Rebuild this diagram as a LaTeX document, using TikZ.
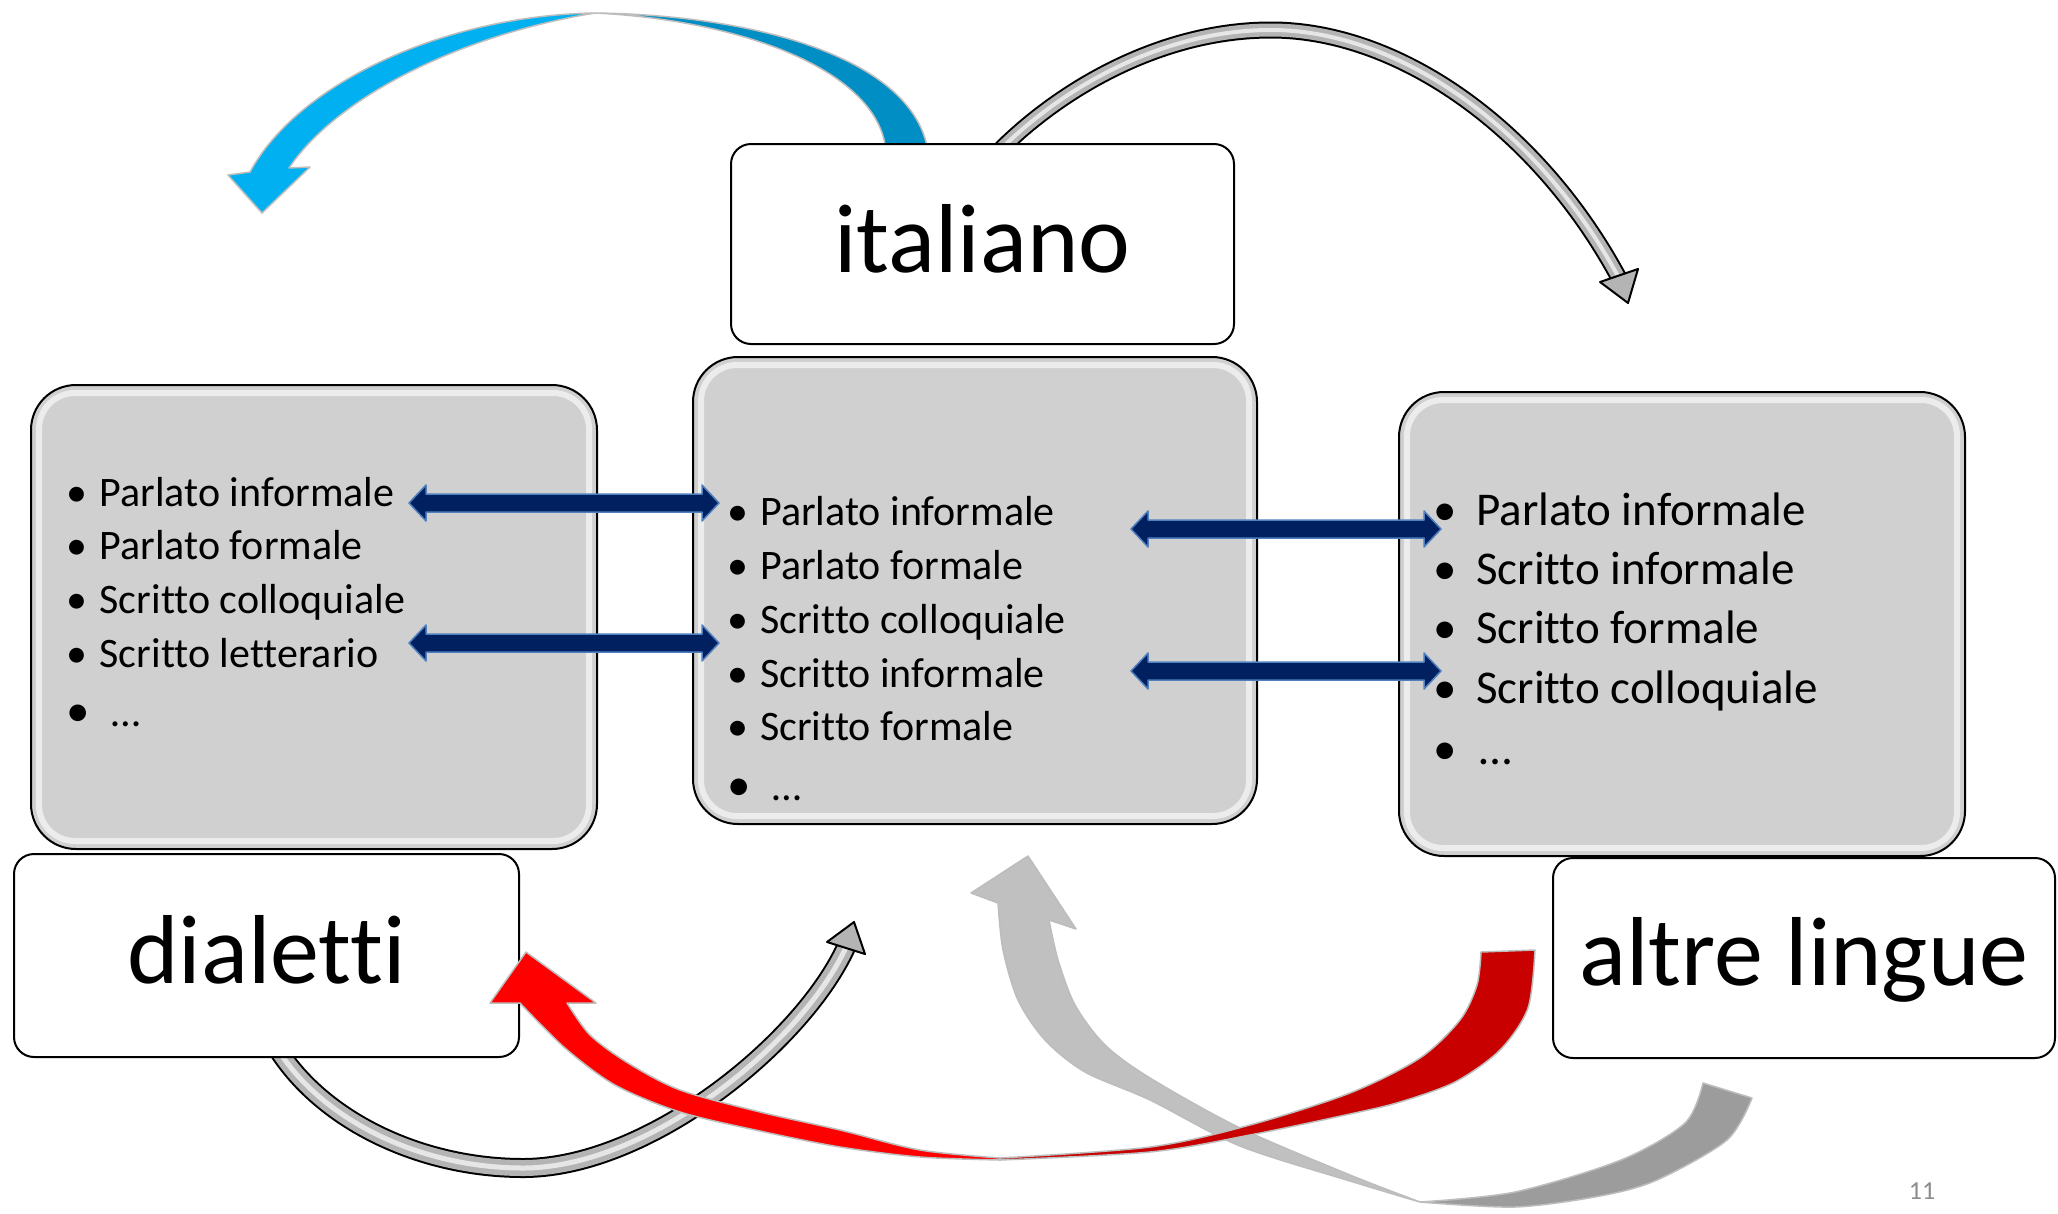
\documentclass[tikz,border=0pt]{standalone}
\usepackage{fontspec}
\setmainfont{Carlito}[Ligatures={NoCommon}]
\usetikzlibrary{calc}
\definecolor{boxgrey}{HTML}{D0D0D0}
\definecolor{navyfill}{HTML}{002060}
\definecolor{navyedge}{HTML}{4F7FBF}
\definecolor{blueL}{HTML}{00B0F0}
\definecolor{blueD}{HTML}{008EC4}
\definecolor{redL}{HTML}{FF0000}
\definecolor{redD}{HTML}{C80000}
\definecolor{greyL}{HTML}{C0C0C0}
\definecolor{greyD}{HTML}{9C9C9C}
\definecolor{tubegrey}{HTML}{B4B4B4}
\definecolor{tubelight}{HTML}{E6E6E6}
\definecolor{edgegrey}{HTML}{BDBDBD}
\definecolor{pagegrey}{HTML}{8C8C8C}
\newcommand\navyarrow[2]{%
  \filldraw[navyarr] (#1) -- ($(#1)+(17,-18)$) -- ($(#1)+(17,-9)$) -- ($(#2)+(-17,-9)$)
   -- ($(#2)+(-17,-18)$) -- (#2) -- ($(#2)+(-17,18)$) -- ($(#2)+(-17,9)$)
   -- ($(#1)+(17,9)$) -- ($(#1)+(17,18)$) -- cycle;}
\begin{document}
\begin{tikzpicture}[x=1pt,y=-1pt,line join=round,
  gbox/.style={draw=black, line width=2pt, fill=boxgrey, rounded corners=45pt, inner sep=0pt},
  ghl/.style={draw=white, line width=6pt, opacity=0.6, rounded corners=36pt},
  wbox/.style={draw=black, line width=2pt, fill=white, rounded corners=20pt, inner sep=0pt},
  itm/.style={anchor=base west, inner sep=0pt, font=\fontsize{42}{50}\selectfont},
  itmR/.style={anchor=base west, inner sep=0pt, font=\fontsize{47}{56}\selectfont},
  bul/.style={anchor=base, inner sep=0pt, font=\fontsize{42}{50}\selectfont},
  bulR/.style={anchor=base, inner sep=0pt, font=\fontsize{47}{56}\selectfont},
  title/.style={anchor=base, inner sep=0pt, font=\fontsize{98}{117}\selectfont},
  navyarr/.style={fill=navyfill, draw=navyedge, line width=1.5pt},
  tubeA/.style={draw=black, line width=17pt, postaction={draw=tubegrey, line width=13pt}, postaction={draw=tubelight, line width=4pt}},
  tubeB/.style={draw=black, line width=20pt, postaction={draw=tubegrey, line width=16pt}, postaction={draw=tubelight, line width=5pt}},
  headst/.style={fill=tubegrey, draw=black, line width=2pt},
  band/.style={draw=edgegrey, line width=1.5pt}]
\useasboundingbox (0,0) rectangle (2058,1213);
\fill[white] (0,0) rectangle (2058,1213);

% ---- curved arrows drawn under the boxes ----
% top right grey tube arrow
\draw[tubeA] (1000,150) .. controls (1060,90) and (1160,30) .. (1271,30)
  .. controls (1400,30) and (1540,130) .. (1620,280);
\filldraw[headst] (1600,282) -- (1628,303) -- (1638,269) -- cycle;
% bottom left grey tube arrow
\draw[tubeB] (275,1045) .. controls (320,1120) and (420,1168) .. (523,1168)
  .. controls (650,1168) and (805,1040) .. (847,945);
\filldraw[headst] (827,942) -- (854,922) -- (865,954) -- cycle;
% blue arrow (light part with head)
\filldraw[band, fill=blueL] (595,13) .. controls (450,15) and (300,80) .. (250,172)
  -- (228,175) -- (262,213) -- (310,167) -- (289,168)
  .. controls (338,95) and (465,34) .. (595,13) -- cycle;
% blue arrow (dark part)
\filldraw[band, fill=blueD] (928,152) .. controls (915,60) and (760,15) .. (595,13)
  .. controls (740,20) and (880,70) .. (886,152) -- cycle;

% ---- boxes ----
\node[gbox, minimum width=566pt, minimum height=464pt] (gl) at (314,617) {};
\node[gbox, minimum width=564pt, minimum height=467pt] (gc) at (975,590.5) {};
\node[gbox, minimum width=566pt, minimum height=464pt] (gr) at (1682,624) {};
\foreach \bx in {gl,gc,gr}
  \draw[ghl] ($(\bx.north west)+(9,9)$) rectangle ($(\bx.south east)+(-9,-9)$);
\node[wbox, minimum width=503pt, minimum height=200pt] (it) at (982.5,244) {};
\node[wbox, minimum width=505pt, minimum height=203pt] (di) at (266.5,955.5) {};
\node[wbox, minimum width=502pt, minimum height=200pt] (al) at (1804,958) {};
\node[title] (itT) at (982.5,272) {italiano};
\node[title] (diT) at (266.5,983) {dialetti};
\node[title] (alT) at (1804,985) {altre lingue};

% ---- list texts ----
\foreach \txt/\yy [count=\i] in {Parlato informale/506, Parlato formale/559, Scritto colloquiale/613, Scritto letterario/667} {
  \node[bul] (lb\i) at (77,\yy) {•};
  \node[itm] (lt\i) at (99.5,\yy) {\txt};
}
\node[bul, font=\fontsize{47}{56}\selectfont] (lb5) at (78,726) {•};
\node[itm] (lt5) at (111,726) {…};

\foreach \txt/\yy [count=\i] in {Parlato informale/525, Parlato formale/579, Scritto colloquiale/633, Scritto informale/687, Scritto formale/740} {
  \node[bul] (cb\i) at (738,\yy) {•};
  \node[itm] (ct\i) at (760,\yy) {\txt};
}
\node[bul, font=\fontsize{47}{56}\selectfont] (cb6) at (739,800) {•};
\node[itm] (ct6) at (772,800) {…};

\foreach \txt/\yy [count=\i] in {Parlato informale/525, Scritto informale/584, Scritto formale/643, Scritto colloquiale/703} {
  \node[bulR] (rb\i) at (1445,\yy) {•};
  \node[itmR] (rt\i) at (1476,\yy) {\txt};
}
\node[bulR] (rb5) at (1445,764) {•};
\node[itmR] (rt5) at (1479,764) {…};

% ---- navy double arrows ----
\coordinate (a1L) at (409,503);  \coordinate (a1R) at (719,503);
\coordinate (a2L) at (409,643);  \coordinate (a2R) at (719,643);
\coordinate (a3L) at (1131,529); \coordinate (a3R) at (1441,529);
\coordinate (a4L) at (1131,671); \coordinate (a4R) at (1441,671);
\navyarrow{a1L}{a1R}
\navyarrow{a2L}{a2R}
\navyarrow{a3L}{a3R}
\navyarrow{a4L}{a4R}

% ---- big grey arrow (from altre lingue up to centre box) ----
\filldraw[band, fill=greyL] plot[smooth] coordinates {(1420,1202) (1350,1181) (1240,1146) (1150,1100) (1085,1072) (1045,1040) (1018,1000) (1003,950) (998,903)}
  -- (971,893) -- (1028,856) -- (1076,929) -- (1049,920)
  -- plot[smooth] coordinates {(1049,920) (1058,960) (1075,1005) (1105,1045) (1150,1078) (1240,1128) (1350,1175) (1420,1202)} -- cycle;
\filldraw[band, fill=greyD] plot[smooth] coordinates {(1420,1202) (1515,1207) (1600,1196) (1657,1180) (1727,1140) (1752,1098)}
  -- (1703,1083)
  -- plot[smooth] coordinates {(1703,1083) (1685,1123) (1621,1160) (1515,1192) (1420,1202)} -- cycle;

% ---- red arrow (from altre lingue to dialetti) ----
\filldraw[band, fill=redL] plot[smooth] coordinates {(1000,1160) (920,1157) (840,1147) (760,1131) (680,1112) (615,1085) (565,1048) (520,1003)}
  -- (490,1003) -- (526,952) -- (596,1003) -- (567,1003)
  -- plot[smooth] coordinates {(567,1003) (590,1035) (628,1063) (680,1090) (760,1112) (840,1130) (920,1150) (1000,1158)} -- cycle;
\filldraw[band, fill=redD] plot[smooth] coordinates {(1535,950) (1528,1008) (1500,1050) (1455,1082) (1400,1102) (1350,1114) (1250,1135) (1150,1152) (1000,1160)}
  -- plot[smooth] coordinates {(1000,1158) (1150,1147) (1250,1125) (1350,1093) (1420,1058) (1460,1020) (1477,985) (1481,952)} -- cycle;

% page number
\node[anchor=base, inner sep=0pt, text=pagegrey, font=\fontsize{26}{30}\selectfont] (pg) at (1922,1199) {11};
\end{tikzpicture}
\end{document}
